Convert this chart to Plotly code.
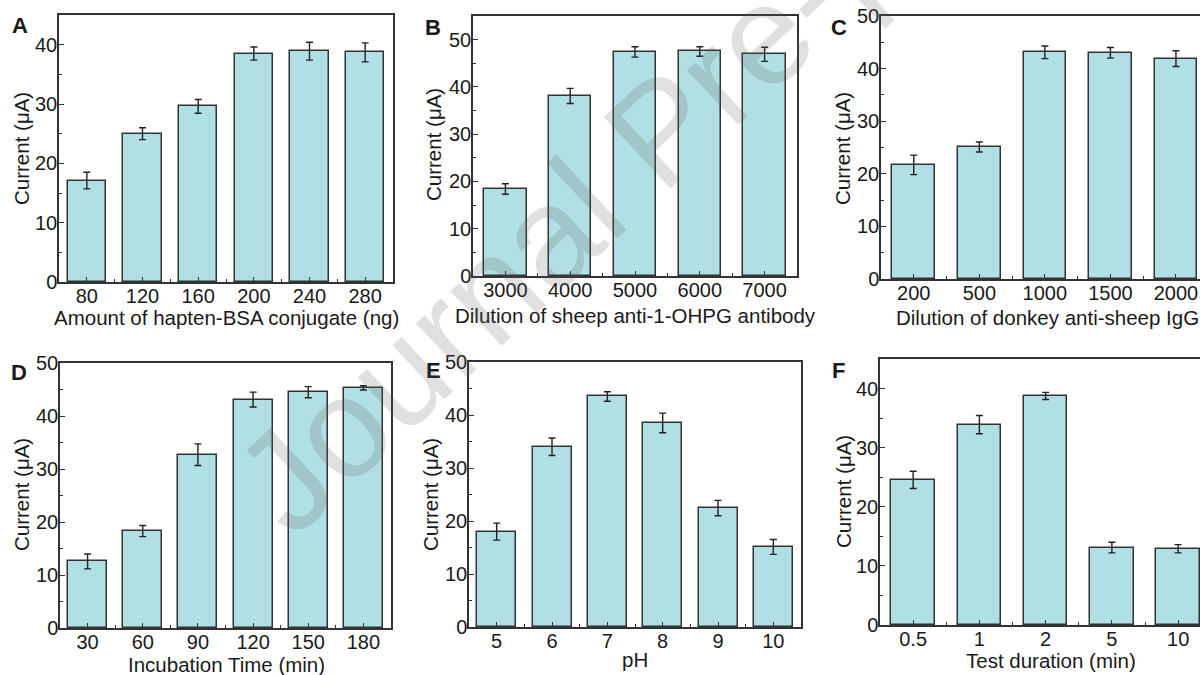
import plotly.graph_objects as go

W, H = 1200, 675
OX, OY = 0, 0  # body margin removed by post_script below

# ---------------- data ----------------
a_labels = ["80", "120", "160", "200", "240", "280"]
a_vals = [17.1, 25.0, 29.6, 38.5, 38.9, 38.7]
a_err = [1.4, 1.0, 1.15, 1.1, 1.5, 1.6]

b_labels = ["3000", "4000", "5000", "6000", "7000"]
b_vals = [18.4, 38.1, 47.4, 47.5, 46.9]
b_err = [1.1, 1.6, 1.1, 1.0, 1.5]

c_labels = ["200", "500", "1000", "1500", "2000"]
c_vals = [21.7, 25.1, 43.1, 43.0, 41.9]
c_err = [1.85, 0.95, 1.2, 1.0, 1.5]

d_labels = ["30", "60", "90", "120", "150", "180"]
d_vals = [12.55, 18.3, 32.7, 43.1, 44.5, 45.3]
d_err = [1.4, 1.05, 2.05, 1.4, 1.05, 0.4]

e_labels = ["5", "6", "7", "8", "9", "10"]
e_vals = [18.0, 34.0, 43.5, 38.5, 22.45, 15.1]
e_err = [1.6, 1.65, 0.9, 1.85, 1.45, 1.4]

f_labels = ["0.5", "1", "2", "5", "10"]
f_vals = [24.55, 33.9, 38.75, 13.1, 12.9]
f_err = [1.45, 1.55, 0.6, 0.9, 0.7]

panel_letters = ["A", "B", "C", "D", "E", "F"]
x_titles = [
    "Amount of hapten-BSA conjugate (ng)",
    "Dilution of sheep anti-1-OHPG antibody",
    "Dilution of donkey anti-sheep IgG",
    "Incubation Time (min)",
    "pH",
    "Test duration (min)",
]
y_title = "Current (\u03bcA)"
y_ranges = [45, 55, 50, 50, 50, 45]


def px(x):
    return (x - OX) / W


def py(y):
    return 1 - (y - OY) / H


# ---------------- layout geometry (screen pixels) ----------------
panels = [
    dict(lab=a_labels, val=a_vals, err=a_err, box=(59, 393, 15, 282), bw=0.69, xend=None,
         letter=(20, 26), ytit=(22, 149), xtit=(226, 318)),
    dict(lab=b_labels, val=b_vals, err=b_err, box=(473, 797, 16, 276), bw=0.655, xend=None,
         letter=(433, 27), ytit=(434, 145), xtit=(635, 315)),
    dict(lab=c_labels, val=c_vals, err=c_err, box=(881, 1200, 16, 279), bw=0.65, xend=4.367,
         letter=(839, 27), ytit=(843, 149), xtit=(1047, 317)),
    dict(lab=d_labels, val=d_vals, err=d_err, box=(60, 391, 363, 628), bw=0.705, xend=None,
         letter=(19, 372), ytit=(22, 495), xtit=(226, 664)),
    dict(lab=e_labels, val=e_vals, err=e_err, box=(469, 801, 362, 627), bw=0.705, xend=None,
         letter=(433, 371), ytit=(431, 495), xtit=(635, 659)),
    dict(lab=f_labels, val=f_vals, err=f_err, box=(880, 1200, 359, 625), bw=0.654, xend=4.33,
         letter=(838, 371), ytit=(843, 492), xtit=(1051, 660)),
]

FONT = "Arial, Liberation Sans, sans-serif"
TXT = "#1a1a1a"
LINE = "#333333"
BAR = "#B0DFE4"

fig = go.Figure()
annotations = []

for i, p in enumerate(panels):
    n = len(p["lab"])
    xs = list(range(n))
    ax = "" if i == 0 else str(i + 1)
    fig.add_trace(go.Bar(
        x=xs, y=p["val"], width=p["bw"],
        marker=dict(color=BAR, line=dict(color=LINE, width=1.5)),
        error_y=dict(type="data", array=p["err"], visible=True,
                     color="#222222", thickness=1.4, width=3.5),
        xaxis="x" + ax, yaxis="y" + ax, showlegend=False,
    ))
    x0, x1, y0, y1 = p["box"]
    open_right = p["xend"] is not None
    xend = p["xend"] if open_right else n - 0.5
    fig.layout["xaxis" + ax] = dict(
        domain=[px(x0), min(1.0, px(x1))], anchor="y" + ax, automargin=False,
        range=[-0.5, xend], tickmode="array", tickvals=xs, ticktext=p["lab"],
        ticks="inside", ticklen=5, tickwidth=1.2, tickcolor=LINE,
        minor=dict(tickmode="array", tickvals=[k + 0.5 for k in range(n - 1)],
                   ticks="inside", ticklen=3, tickwidth=1.1, tickcolor=LINE),
        showline=True, linecolor=LINE, linewidth=1.5, mirror=True,
        showgrid=False, zeroline=False, fixedrange=True, ticklabelstandoff=-5,
        ticklabeloverflow="allow",
        tickfont=dict(family=FONT, size=20, color=TXT),
    )
    fig.layout["yaxis" + ax] = dict(
        domain=[py(y1), py(y0)], anchor="x" + ax, automargin=False,
        range=[0, y_ranges[i]], tickmode="linear", tick0=0, dtick=10,
        ticks="inside", ticklen=5, tickwidth=1.2, tickcolor=LINE,
        minor=dict(tickmode="linear", tick0=5, dtick=10, ticks="inside",
                   ticklen=3, tickwidth=1.1, tickcolor=LINE),
        showline=True, linecolor=LINE, linewidth=1.5, mirror=not open_right,
        showgrid=False, zeroline=False, fixedrange=True, ticklabelstandoff=-4,
        ticklabeloverflow="allow",
        tickfont=dict(family=FONT, size=20, color=TXT),
    )
    lx, ly = p["letter"]
    annotations.append(dict(text="<b>%s</b>" % panel_letters[i], x=px(lx), y=py(ly),
                            xref="paper", yref="paper", showarrow=False,
                            xanchor="center", yanchor="middle",
                            font=dict(family=FONT, size=22, color=TXT)))
    tx, ty = p["ytit"]
    annotations.append(dict(text=y_title, x=px(tx), y=py(ty), xref="paper", yref="paper",
                            showarrow=False, textangle=-90, xanchor="center", yanchor="middle",
                            font=dict(family=FONT, size=20.5, color=TXT)))
    tx, ty = p["xtit"]
    annotations.append(dict(text=x_titles[i], x=px(tx), y=py(ty), xref="paper", yref="paper",
                            showarrow=False, xanchor="center", yanchor="middle",
                            font=dict(family=FONT, size=20.5, color=TXT)))

# watermark
annotations.append(dict(text="Journal Pre-proof", x=px(660), y=py(130),
                        xref="paper", yref="paper", showarrow=False, textangle=-43,
                        xanchor="center", yanchor="middle",
                        font=dict(family=FONT, size=142, color="rgba(90,90,90,0.19)")))

fig.update_layout(
    width=W, height=H, margin=dict(l=0, r=0, t=0, b=0, autoexpand=False),
    paper_bgcolor="white", plot_bgcolor="white",
    annotations=annotations, bargap=0,
)

fig.write_html("out.html", include_plotlyjs=True, config={"displayModeBar": False},
               post_script="document.body.style.margin='0px';document.body.style.overflow='hidden';")
